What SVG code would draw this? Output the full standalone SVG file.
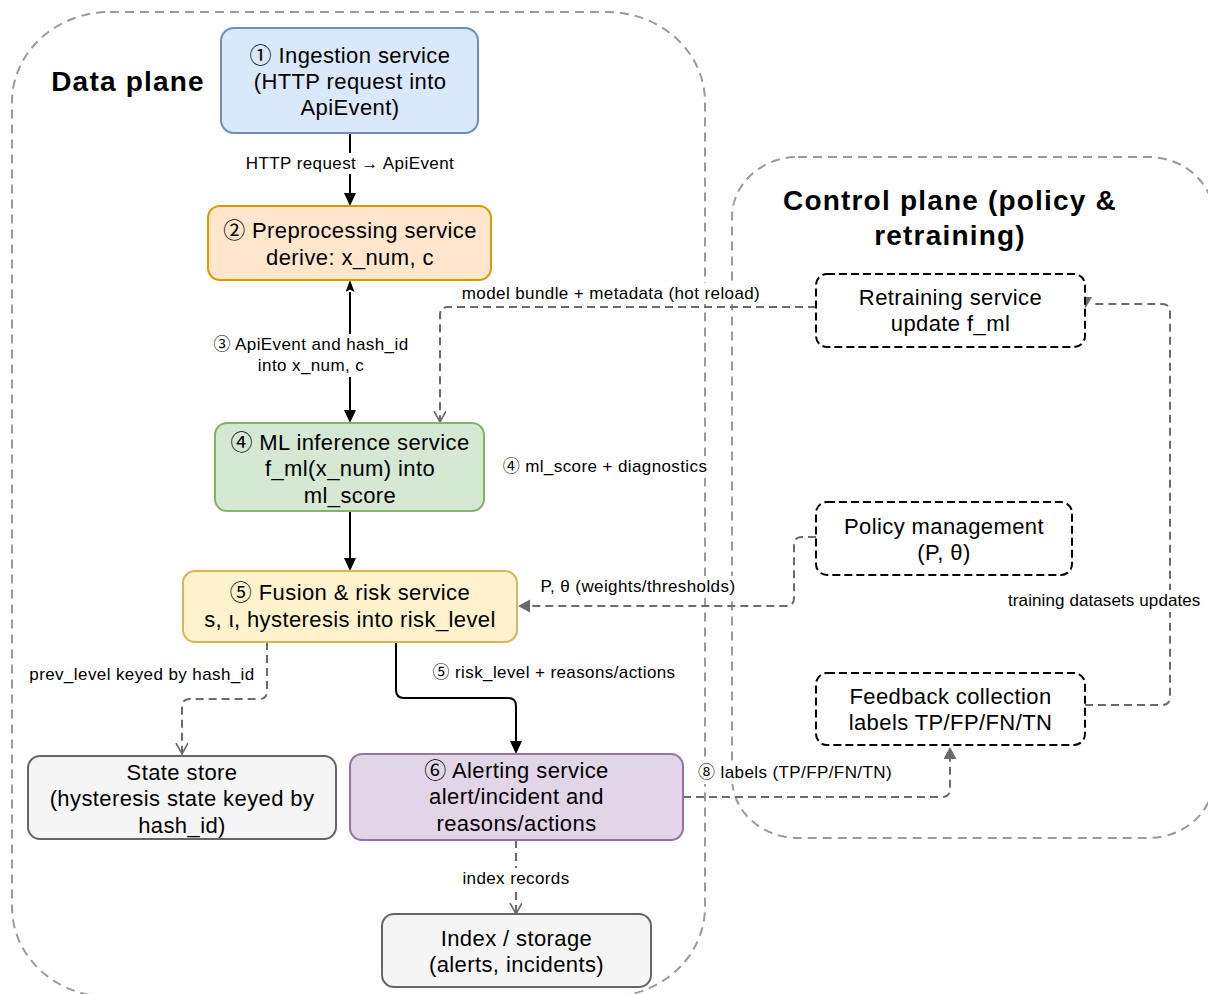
<svg xmlns="http://www.w3.org/2000/svg" width="1208" height="994" viewBox="0 0 1208 994">
  <style>
    text { font-family: 'Liberation Sans', 'Noto Sans CJK JP', 'DejaVu Sans', sans-serif; fill: #000; }
    .title { font-size: 28px; font-weight: bold; letter-spacing: 1.2px; text-anchor: middle; }
    .nt { font-size: 22px; letter-spacing: 0.4px; text-anchor: middle; }
    .lbl { font-size: 17px; letter-spacing: 0.4px; text-anchor: middle; }
    .lbg { fill: #ffffff; stroke: none; }
    .plane { fill: none; stroke: #9a9a9a; stroke-width: 2; stroke-dasharray: 9 6; }
    .solid { fill: none; stroke: #000; stroke-width: 2; }
    .dash { fill: none; stroke: #6b6b6b; stroke-width: 2; stroke-dasharray: 8 5; }
    .box { stroke-width: 2; }
    .ctl { fill: #ffffff; stroke: #000; stroke-width: 2; stroke-dasharray: 8 4; }
  </style>
  <defs>
    <marker id="blk" markerUnits="userSpaceOnUse" markerWidth="14" markerHeight="14" refX="0" refY="6" orient="auto-start-reverse">
      <path d="M0,0 L13,6 L0,12 Z" fill="#000"/>
    </marker>
    <marker id="thin" markerUnits="userSpaceOnUse" markerWidth="14" markerHeight="10" refX="0" refY="4.5" orient="auto-start-reverse">
      <path d="M0,0 L12,4.5 L0,9 L2.5,4.5 Z" fill="#000"/>
    </marker>
    <marker id="gry" markerUnits="userSpaceOnUse" markerWidth="14" markerHeight="14" refX="0" refY="6.5" orient="auto">
      <path d="M0,0 L12,6.5 L0,13 Z" fill="#6b6b6b"/>
    </marker>
    <marker id="opn" markerUnits="userSpaceOnUse" markerWidth="14" markerHeight="16" refX="11" refY="6" orient="auto">
      <path d="M0,0 L11,6 L0,12" fill="none" stroke="#6b6b6b" stroke-width="1.6"/>
    </marker>
  </defs>

  <!-- swimlane containers -->
  <g id="data-plane">
    <rect class="plane" x="12" y="12" width="693" height="985" rx="98" ry="90"/>
    <text class="title" x="128" y="91">Data plane</text>
  </g>
  <g id="control-plane">
    <rect class="plane" x="732" y="157" width="482" height="681" rx="66" ry="60"/>
    <text class="title" x="950" y="210">Control plane (policy &amp;</text>
    <text class="title" x="950" y="245">retraining)</text>
  </g>

  <!-- connectors -->
  <g id="connectors">
    <path class="solid" d="M350,133 V193" marker-end="url(#blk)"/>
    <path class="solid" d="M350,292 V410" marker-start="url(#thin)" marker-end="url(#blk)"/>
    <path class="solid" d="M350,511 V558" marker-end="url(#blk)"/>
    <path class="solid" d="M396,642 V690 Q396,698 404,698 H508 Q516,698 516,706 V741" marker-end="url(#blk)"/>
    <path class="dash" d="M267,642 V691 Q267,699 259,699 H190 Q182,699 182,707 V754" marker-end="url(#opn)"/>
    <path class="dash" d="M516,840 V914" marker-end="url(#opn)"/>
    <path class="dash" d="M816,307 H448 Q440,307 440,315 V422" marker-end="url(#opn)"/>
    <path class="dash" d="M816,537 H802 Q794,537 794,545 V598 Q794,606 786,606 H530" marker-end="url(#gry)"/>
    <path class="dash" d="M683,797 H942 Q950,797 950,789 V759" marker-end="url(#gry)"/>
    <path class="dash" d="M1085,705 H1162 Q1170,705 1170,697 V312 Q1170,304 1162,304 H1093"/>
    <polygon points="1078,297 1092,297 1085,309" fill="#6b6b6b"/>

    <!-- connector labels -->
    <rect class="lbg" x="243" y="153" width="213" height="21"/>
    <text class="lbl" x="350" y="169">HTTP request → ApiEvent</text>
    <rect class="lbg" x="210" y="334" width="201" height="43"/>
    <text class="lbl" x="311" y="350">③ ApiEvent and hash_id</text>
    <text class="lbl" x="311" y="371">into x_num, c</text>
    <rect class="lbg" x="459" y="283" width="303" height="21"/>
    <text class="lbl" x="611" y="299">model bundle + metadata (hot reload)</text>
    <rect class="lbg" x="501" y="456" width="209" height="22"/>
    <text class="lbl" x="605" y="472">④ ml_score + diagnostics</text>
    <rect class="lbg" x="539" y="576" width="199" height="22"/>
    <text class="lbl" x="638" y="592">P, θ (weights/thresholds)</text>
    <rect class="lbg" x="28" y="664" width="229" height="22"/>
    <text class="lbl" x="142" y="680">prev_level keyed by hash_id</text>
    <rect class="lbg" x="430" y="662" width="248" height="22"/>
    <text class="lbl" x="554" y="678">⑤ risk_level + reasons/actions</text>
    <rect class="lbg" x="460" y="868" width="112" height="22"/>
    <text class="lbl" x="516" y="884">index records</text>
    <rect class="lbg" x="695" y="762" width="201" height="22"/>
    <text class="lbl" x="795" y="778">⑧ labels (TP/FP/FN/TN)</text>
    <rect class="lbg" x="1006" y="590" width="202" height="22"/>
    <text class="lbl" x="1008" y="606" style="text-anchor:start;letter-spacing:0.1px">training datasets updates</text>
  </g>

  <!-- data plane services -->
  <g id="ingestion">
    <rect class="box" x="221" y="28" width="257" height="105" rx="13" fill="#dae8fc" stroke="#6c8ebf"/>
    <text class="nt" x="350" y="63">① Ingestion service</text>
    <text class="nt" x="350" y="89">(HTTP request into</text>
    <text class="nt" x="350" y="115">ApiEvent)</text>
  </g>
  <g id="preprocessing">
    <rect class="box" x="208" y="206" width="283" height="74" rx="12" fill="#ffe6cc" stroke="#d79b00"/>
    <text class="nt" x="350" y="238">② Preprocessing service</text>
    <text class="nt" x="350" y="265">derive: x_num, c</text>
  </g>
  <g id="ml-inference">
    <rect class="box" x="215" y="423" width="269" height="88" rx="12" fill="#d5e8d4" stroke="#82b366"/>
    <text class="nt" x="350" y="450">④ ML inference service</text>
    <text class="nt" x="350" y="476">f_ml(x_num) into</text>
    <text class="nt" x="350" y="503">ml_score</text>
  </g>
  <g id="fusion-risk">
    <rect class="box" x="183" y="571" width="334" height="71" rx="12" fill="#fff2cc" stroke="#d6b656"/>
    <text class="nt" x="350" y="600">⑤ Fusion &amp; risk service</text>
    <text class="nt" x="350" y="627">s, ι, hysteresis into risk_level</text>
  </g>
  <g id="state-store">
    <rect class="box" x="28" y="756" width="308" height="83" rx="12" fill="#f5f5f5" stroke="#666666"/>
    <text class="nt" x="182" y="780">State store</text>
    <text class="nt" x="182" y="806">(hysteresis state keyed by</text>
    <text class="nt" x="182" y="833">hash_id)</text>
  </g>
  <g id="alerting">
    <rect class="box" x="350" y="754" width="333" height="86" rx="12" fill="#e1d5e7" stroke="#9673a6"/>
    <text class="nt" x="516.5" y="778">⑥ Alerting service</text>
    <text class="nt" x="516.5" y="804">alert/incident and</text>
    <text class="nt" x="516.5" y="831">reasons/actions</text>
  </g>
  <g id="index-storage">
    <rect class="box" x="382" y="914" width="269" height="73" rx="12" fill="#f5f5f5" stroke="#666666"/>
    <text class="nt" x="516.5" y="946">Index / storage</text>
    <text class="nt" x="516.5" y="972">(alerts, incidents)</text>
  </g>

  <!-- control plane services -->
  <g id="retraining">
    <rect class="ctl" x="816" y="274" width="269" height="73" rx="11"/>
    <text class="nt" x="950.5" y="305">Retraining service</text>
    <text class="nt" x="950.5" y="331">update f_ml</text>
  </g>
  <g id="policy">
    <rect class="ctl" x="816" y="502" width="256" height="73" rx="11"/>
    <text class="nt" x="944" y="534">Policy management</text>
    <text class="nt" x="944" y="560">(P, θ)</text>
  </g>
  <g id="feedback">
    <rect class="ctl" x="816" y="673" width="269" height="72" rx="11"/>
    <text class="nt" x="950.5" y="704">Feedback collection</text>
    <text class="nt" x="950.5" y="730">labels TP/FP/FN/TN</text>
  </g>
</svg>
